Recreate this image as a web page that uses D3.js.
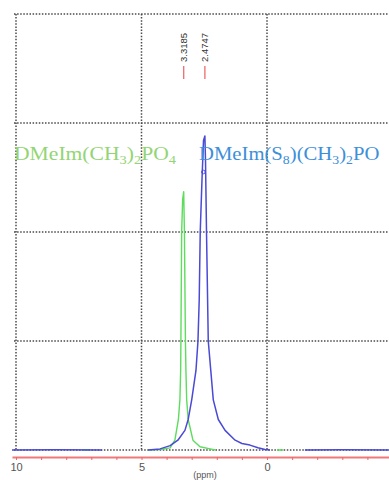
<!DOCTYPE html>
<html>
<head>
<meta charset="utf-8">
<script src="https://cdn.jsdelivr.net/npm/d3@7"></script>
<style>
  html, body { margin: 0; padding: 0; background: #fff; }
  svg { display: block; }
</style>
</head>
<body>
<svg id="chart" width="389" height="480"></svg>
<script>
// 1H NMR overlay: chemical shift (ppm, reversed axis) vs. intensity (grid units)

// axis ticks
const ppmTicks = [10, 9, 8, 7, 6, 5, 4, 3, 2, 1, 0, -1, -2, -3, -4];
const ppmTickLabels = ["10", "5", "0"];
const ppmLabelValues = [10, 5, 0];
const gridPpm = [10, 5, 0];
const gridIntensity = [0, 1, 2, 3, 4];

// peak picking
const peakShifts = [3.3185, 2.4747];
const peakLabels = ["3.3185", "2.4747"];

// DMeIm(CH3)2PO4 trace: [ppm, intensity], null breaks the line
const greenTrace = [
  [7.35, 0], [7.10, 0], null,
  [4.75, 0], [4.26, 0.005], [3.86, 0.02], [3.67, 0.09], [3.53, 0.28],
  [3.47, 0.46], [3.44, 0.73], [3.43, 1.0], [3.40, 2.0], [3.36, 2.30],
  [3.3185, 2.37],
  [3.29, 2.0], [3.25, 1.0], [3.23, 0.73], [3.20, 0.46], [3.14, 0.28],
  [2.95, 0.09], [2.67, 0.03], [2.27, 0.01], [2.05, 0], null,
  [-0.40, 0], [-0.65, 0]
];

// DMeIm(S8)(CH3)2PO trace
const blueTrace = [
  [10.16, 0], [8.5, 0.002], [6.57, 0], null,
  [4.74, 0], [4.26, 0.01], [3.86, 0.04], [3.55, 0.09], [3.27, 0.18],
  [3.14, 0.28], [3.00, 0.46], [2.83, 0.73], [2.75, 1.0], [2.70, 1.38],
  [2.66, 2.0], [2.59, 2.48], [2.53, 2.84],
  [2.4747, 2.88],
  [2.45, 2.66], [2.41, 2.0], [2.34, 1.0], [2.24, 0.73], [2.14, 0.46],
  [1.94, 0.28], [1.67, 0.18], [1.27, 0.09], [1.00, 0.06], [0.68, 0.045],
  [0.36, 0.02], [0.08, 0.005], [-0.12, 0], null,
  [-1.51, 0], [-3.0, 0.002], [-4.9, 0]
];

const svg = d3.select("#chart");

const x = d3.scaleLinear().domain([10, 0]).range([16, 267]);
const y = d3.scaleLinear().domain([0, 4]).range([450, 14]);
const xLeft = 14, xRight = 389;

// dotted grid
const grid = svg.append("g")
  .attr("stroke", "#4a4a4a")
  .attr("stroke-width", 1.5)
  .attr("stroke-dasharray", "1.5,1.6")
  .attr("fill", "none");

grid.selectAll("line.h").data(gridIntensity).join("line")
  .attr("class", "h")
  .attr("x1", xLeft).attr("x2", xRight)
  .attr("y1", d => y(d)).attr("y2", d => y(d));

grid.selectAll("line.v").data(gridPpm).join("line")
  .attr("class", "v")
  .attr("x1", d => x(d)).attr("x2", d => x(d))
  .attr("y1", y(4)).attr("y2", y(0));

// x axis (red)
const xAxisScale = x.copy().domain([10.16, -4.9]).range([x(10.16), x(-4.9)]);
const axis = d3.axisBottom(xAxisScale)
  .tickValues(ppmTicks)
  .tickSize(3)
  .tickSizeOuter(0)
  .tickFormat(d => {
    const i = ppmLabelValues.indexOf(d);
    return i >= 0 ? ppmTickLabels[i] : "";
  });

const gAxis = svg.append("g")
  .attr("transform", "translate(0,457)")
  .call(axis);
gAxis.select(".domain").attr("stroke", "#f07878").attr("stroke-width", 2);
gAxis.selectAll(".tick line").attr("stroke", "#e86a6a").attr("stroke-width", 1);
gAxis.selectAll(".tick text")
  .attr("fill", "#555")
  .attr("font-family", "'Liberation Sans', Arial, sans-serif")
  .attr("font-size", 11)
  .attr("y", 6);

// axis unit at the bottom edge
svg.append("text")
  .attr("x", 205).attr("y", 478)
  .attr("text-anchor", "middle")
  .attr("font-family", "'Liberation Sans', Arial, sans-serif")
  .attr("font-size", 9)
  .attr("fill", "#555")
  .text("(ppm)");

// spectra
const line = d3.line()
  .defined(d => d !== null)
  .x(d => x(d[0]))
  .y(d => y(d[1]));

svg.append("path")
  .attr("d", line(greenTrace))
  .attr("fill", "none")
  .attr("stroke", "#5ddc5d")
  .attr("stroke-width", 1.4)
  .attr("stroke-linejoin", "round");

svg.append("path")
  .attr("d", line(blueTrace))
  .attr("fill", "none")
  .attr("stroke", "#4a4ad6")
  .attr("stroke-width", 1.5)
  .attr("stroke-linejoin", "round");

// small marker on the blue peak
svg.append("circle")
  .attr("cx", x(peakShifts[1]) - 1.5)
  .attr("cy", 172)
  .attr("r", 1.8)
  .attr("fill", "none")
  .attr("stroke", "#4a4ad6")
  .attr("stroke-width", 1);

// peak labels
const peaks = svg.append("g");
peaks.selectAll("line").data(peakShifts).join("line")
  .attr("x1", d => x(d)).attr("x2", d => x(d))
  .attr("y1", 66).attr("y2", 79)
  .attr("stroke", "#ee6b6b")
  .attr("stroke-width", 1.3);

peaks.selectAll("text").data(peakShifts).join("text")
  .attr("transform", d => `translate(${x(d) + 3.5},62) rotate(-90)`)
  .attr("font-family", "'Liberation Sans', Arial, sans-serif")
  .attr("font-size", 9.5)
  .attr("fill", "#333")
  .text((d, i) => peakLabels[i]);

// compound labels
function compoundLabel(parts, px, py, sx, color) {
  const t = svg.append("text")
    .attr("transform", `translate(${px},${py}) scale(${sx},1)`)
    .attr("font-family", "'Liberation Serif', 'Times New Roman', serif")
    .attr("font-size", 18)
    .attr("fill", color);
  parts.forEach(p => {
    const s = t.append("tspan").text(p.t);
    if (p.sub) s.attr("font-size", 12).attr("dy", 4);
    else s.attr("dy", p.back ? -4 : 0);
  });
}

compoundLabel([
  { t: "DMeIm(CH" }, { t: "3", sub: true }, { t: ")", back: true },
  { t: "2", sub: true }, { t: "PO", back: true }, { t: "4", sub: true }
], 14, 160, 1.2, "#93d574");

compoundLabel([
  { t: "DMeIm(S" }, { t: "8", sub: true }, { t: ")(CH", back: true },
  { t: "3", sub: true }, { t: ")", back: true }, { t: "2", sub: true },
  { t: "PO", back: true }
], 199, 160, 1.15, "#3d8fd9");
</script>
</body>
</html>
